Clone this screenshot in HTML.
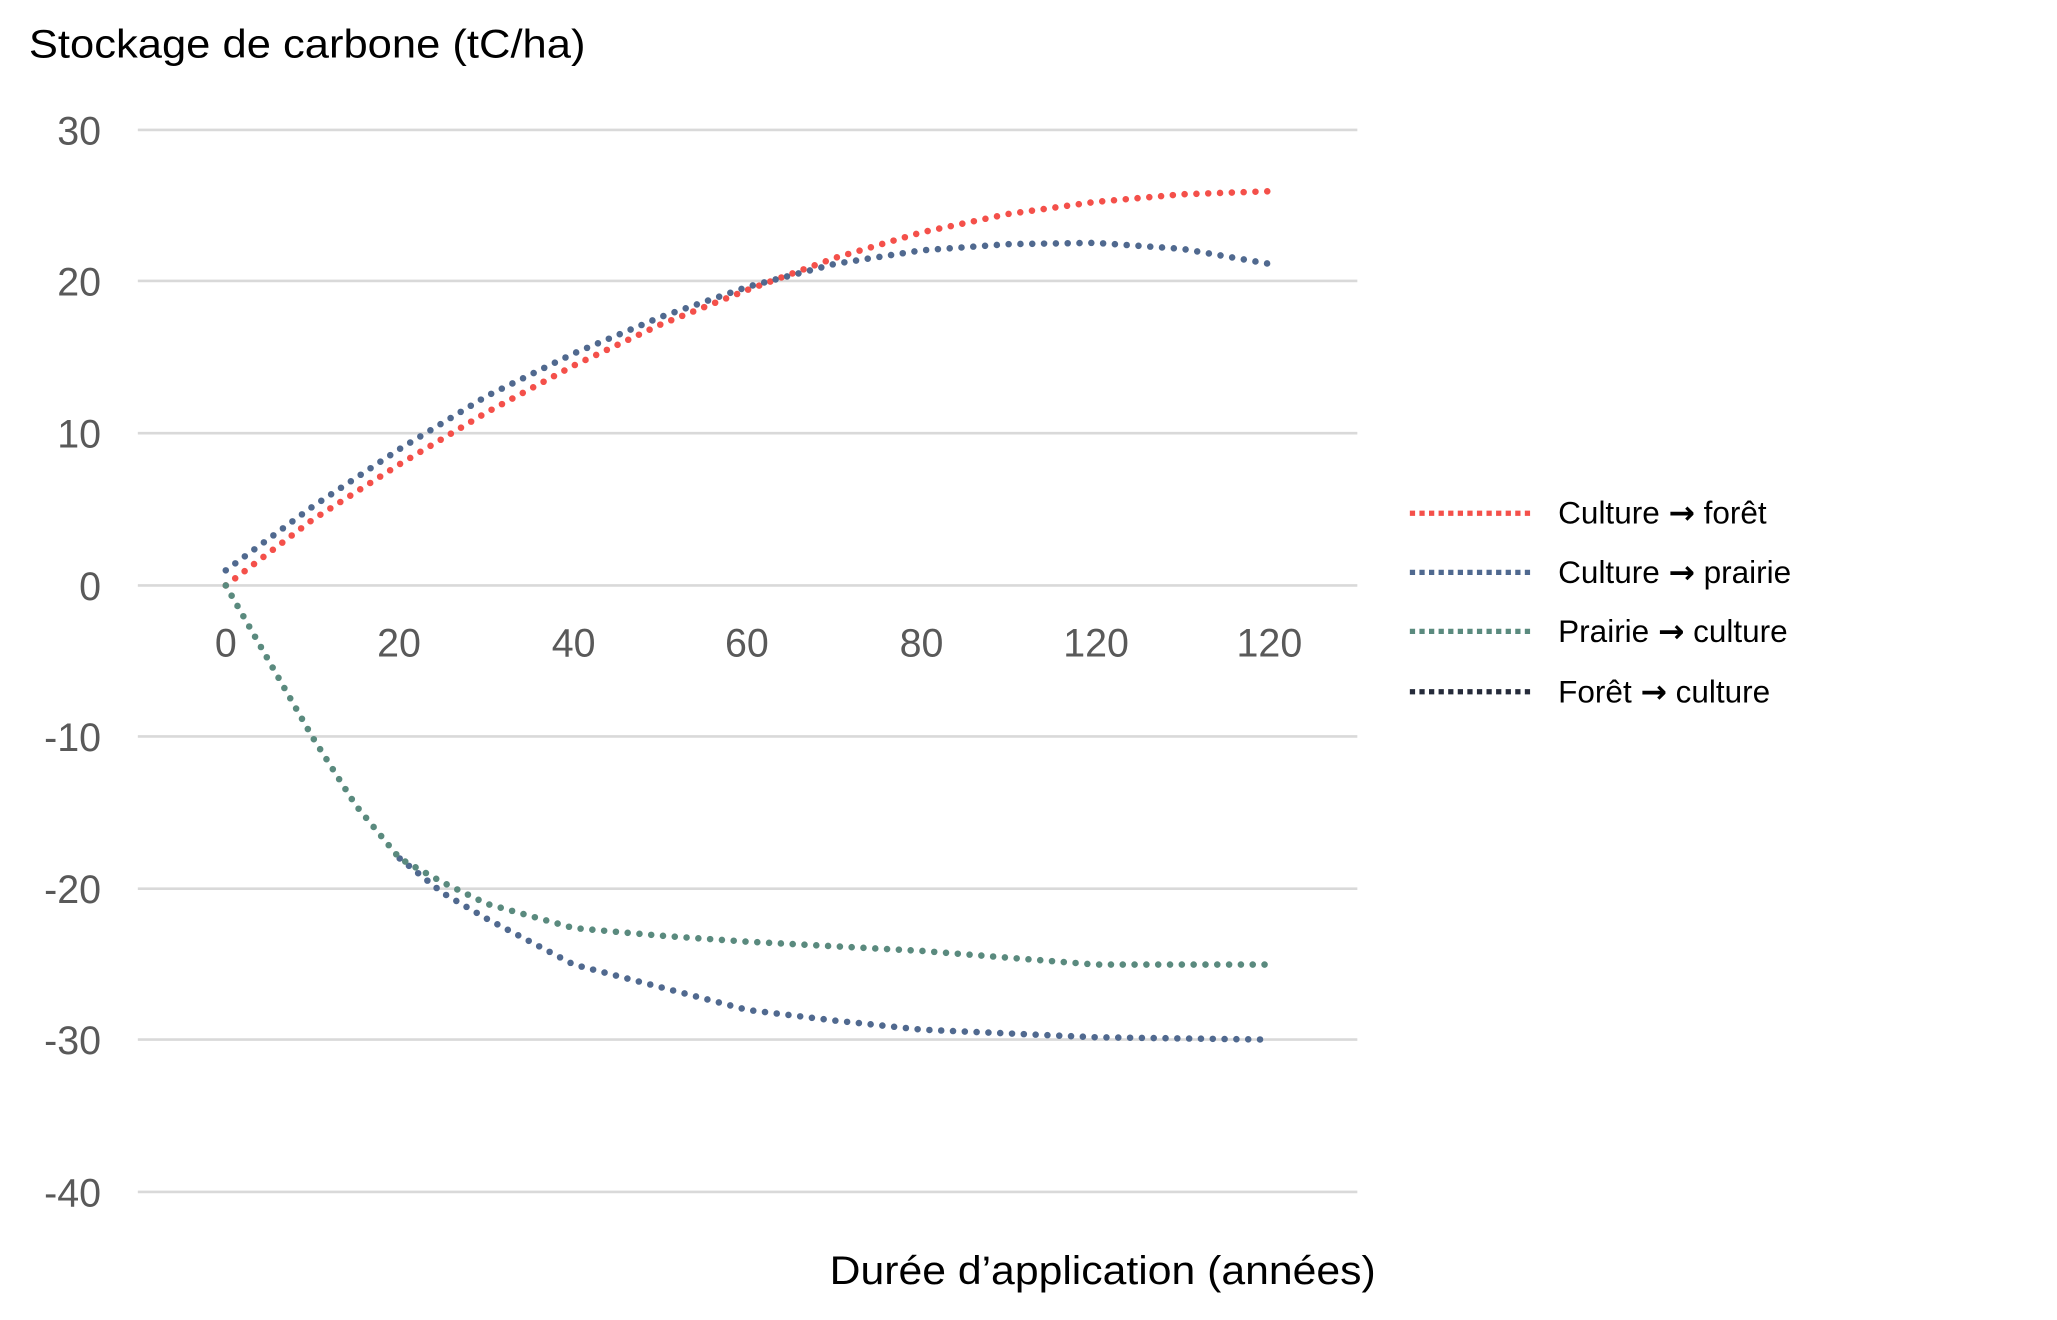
<!DOCTYPE html>
<html><head><meta charset="utf-8"><style>
html,body{margin:0;padding:0;background:#fff;}
svg{display:block;}
text{font-family:"Liberation Sans",sans-serif;}
.ar{font-family:"DejaVu Sans",sans-serif;font-weight:bold;}
</style></head><body>
<svg width="2057" height="1320" viewBox="0 0 1567 1005.6" preserveAspectRatio="none" xmlns="http://www.w3.org/2000/svg">
<rect width="1567" height="1005.6" fill="#fff"/>
<g stroke="#d9d9d9" stroke-width="2">
<line x1="105" x2="1034" y1="99" y2="99"/>
<line x1="105" x2="1034" y1="214" y2="214"/>
<line x1="105" x2="1034" y1="330" y2="330"/>
<line x1="105" x2="1034" y1="446" y2="446"/>
<line x1="105" x2="1034" y1="561" y2="561"/>
<line x1="105" x2="1034" y1="677" y2="677"/>
<line x1="105" x2="1034" y1="792" y2="792"/>
<line x1="105" x2="1034" y1="908" y2="908"/>
</g>
<text x="22" y="44" font-size="30" fill="#000" textLength="424" lengthAdjust="spacingAndGlyphs">Stockage de carbone (tC/ha)</text>
<g font-size="30" fill="#595959" text-anchor="end">
<text x="77" y="110">30</text>
<text x="77" y="225">20</text>
<text x="77" y="341">10</text>
<text x="77" y="457">0</text>
<text x="77" y="572">-10</text>
<text x="77" y="688">-20</text>
<text x="77" y="803">-30</text>
<text x="77" y="919">-40</text>
</g>
<g font-size="30" fill="#595959" text-anchor="middle">
<text x="172" y="500">0</text>
<text x="304" y="500">20</text>
<text x="437" y="500">40</text>
<text x="569" y="500">60</text>
<text x="702" y="500">80</text>
<text x="835" y="500">120</text>
<text x="967" y="500">120</text>
</g>
<text x="632" y="978" font-size="30" fill="#000" textLength="416" lengthAdjust="spacingAndGlyphs">Durée d’application (années)</text>
<g fill="none" stroke-width="5" stroke-linecap="round" stroke-dasharray="0 9">
<polyline stroke="#f4504a" points="172,446 238,396 304.5,353.6 371,314 437,278.5 503,247.3 569.5,220.8 636,196.5 702,177 768,163 834.5,153.8 900.8,148 967,145.7"/>
<polyline stroke="#50698f" points="172,434.5 238,386 304.5,342 371,301.6 437,269.3 503,241.6 569.5,218.5 636,201 702,190.7 768,186 834.5,185 900.8,189.6 967,201"/>
<polyline stroke="#50698f" points="304.5,654 337.6,680.5 371,700 437,734.8 503,752 569.5,769.4 636,777.5 702,784.4 834.5,790.2 967,792"/>
<polyline stroke="#5a8a7e" points="172,446 205,503.8 238,561.5 271,613.5 304.5,654 337.6,672.4 371,688.6 437,707 503,712.8 569.5,717.4 702,724.4 834.5,734.8 967,734.8"/>
</g>
<g stroke-width="4" stroke-dasharray="4 3.3">
<line x1="1074" x2="1167" y1="391" y2="391" stroke="#f4504a"/>
<line x1="1074" x2="1167" y1="436" y2="436" stroke="#50698f"/>
<line x1="1074" x2="1167" y1="481" y2="481" stroke="#5a8a7e"/>
<line x1="1074" x2="1167" y1="527" y2="527" stroke="#252b3a"/>
</g>
<g font-size="24" fill="#000">
<text x="1187" y="399">Culture <tspan class="ar">→</tspan> forêt</text>
<text x="1187" y="444">Culture <tspan class="ar">→</tspan> prairie</text>
<text x="1187" y="489">Prairie <tspan class="ar">→</tspan> culture</text>
<text x="1187" y="535">Forêt <tspan class="ar">→</tspan> culture</text>
</g>
</svg>
</body></html>
